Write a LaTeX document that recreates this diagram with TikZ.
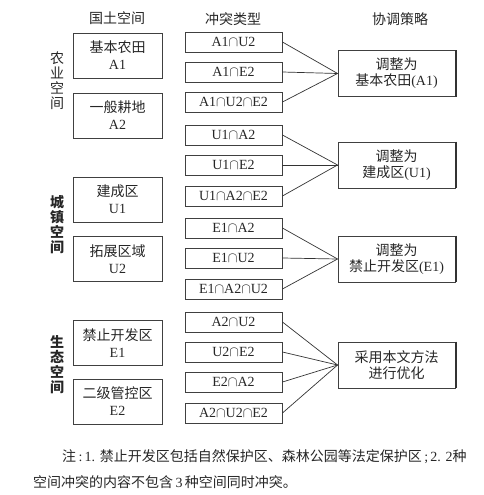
\documentclass[tikz,border=0pt]{standalone}
\usepackage{fontspec}
\setmainfont{Liberation Serif}
\newfontfamily\cjk{Noto Sans CJK SC}
\newcommand{\ic}{\ensuremath{\cap}}
\begin{document}
\begin{tikzpicture}[x=1pt,y=-1pt,
  every node/.style={inner sep=0pt, text=black!85},
  lbox/.style={draw=black!75, line width=0.9pt, minimum width=89pt, minimum height=45pt, align=center, font=\fontsize{14}{17}\selectfont},
  mbox/.style={draw=black!75, line width=0.9pt, minimum width=97pt, minimum height=20pt, font=\fontsize{14}{15}\selectfont},
  rbox/.style={draw=black!75, line width=0.9pt, minimum width=117pt, minimum height=46pt, align=center, font=\fontsize{14}{16}\selectfont},
  head/.style={font=\fontsize{14}{15}\selectfont\cjk},
  side/.style={align=center, font=\fontsize{14}{15}\selectfont\cjk},
  conn/.style={draw=black!80, line width=0.7pt}]
\useasboundingbox (0,0) rectangle (483,495);

% headers
\node[head] (h1) at (117,18) {国土空间};
\node[head] (h2) at (233,19) {冲突类型};
\node[head] (h3) at (400,19) {协调策略};

% side labels
\node[side] (s1) at (57,81) {农\\业\\空\\间};
\node[side, font=\fontsize{14}{15}\selectfont\cjk\bfseries] (s2) at (57,225) {城\\镇\\空\\间};
\node[side, font=\fontsize{14}{15}\selectfont\cjk\bfseries] (s3) at (57,365) {生\\态\\空\\间};

% left boxes
\node[lbox] (a1) at (117.5,55.5) {{\cjk 基本农田}\\A1};
\node[lbox] (a2) at (117.5,115.5) {{\cjk 一般耕地}\\A2};
\node[lbox] (u1) at (117.5,199.5) {{\cjk 建成区}\\U1};
\node[lbox] (u2) at (117.5,259) {{\cjk 拓展区域}\\U2};
\node[lbox] (e1) at (117.5,343) {{\cjk 禁止开发区}\\E1};
\node[lbox] (e2) at (117.5,401.5) {{\cjk 二级管控区}\\E2};

% middle boxes
\node[mbox] (m1) at (233.5,42) {A1\ic U2};
\node[mbox] (m2) at (233.5,72) {A1\ic E2};
\node[mbox] (m3) at (233.5,102) {A1\ic U2\ic E2};
\node[mbox] (m4) at (233.5,135) {U1\ic A2};
\node[mbox] (m5) at (233.5,165) {U1\ic E2};
\node[mbox] (m6) at (233.5,196) {U1\ic A2\ic E2};
\node[mbox] (m7) at (233.5,228) {E1\ic A2};
\node[mbox] (m8) at (233.5,258) {E1\ic U2};
\node[mbox] (m9) at (233.5,289) {E1\ic A2\ic U2};
\node[mbox] (m10) at (233.5,322) {A2\ic U2};
\node[mbox] (m11) at (233.5,352) {U2\ic E2};
\node[mbox] (m12) at (233.5,382) {E2\ic A2};
\node[mbox] (m13) at (233.5,413) {A2\ic U2\ic E2};

% right boxes
\node[rbox] (r1) at (396.5,73.5) {{\cjk 调整为}\\{\cjk 基本农田}(A1)};
\node[rbox] (r2) at (396.5,165) {{\cjk 调整为}\\{\cjk 建成区}(U1)};
\node[rbox] (r3) at (396.5,259) {{\cjk 调整为}\\{\cjk 禁止开发区}(E1)};
\node[rbox] (r4) at (396.5,365) {{\cjk 采用本文方法}\\{\cjk 进行优化}};
\foreach \r in {r1,r2,r3,r4}{
  \draw[draw=black!80, line width=1.6pt] ([xshift=0.35pt]\r.north east) -- ([xshift=0.35pt]\r.south east);
}

% connectors
\foreach \m in {m1,m2,m3}{\draw[conn] (\m.east) -- (r1.west);}
\foreach \m in {m4,m5,m6}{\draw[conn] (\m.east) -- (r2.west);}
\foreach \m in {m7,m8,m9}{\draw[conn] (\m.east) -- (r3.west);}
\foreach \m in {m10,m11,m12,m13}{\draw[conn] (\m.east) -- (r4.west);}

% note
\node[anchor=west, font=\fontsize{14}{16}\selectfont] (n1) at (62,457) {{\cjk 注}\,:\,1. {\cjk 禁止开发区包括自然保护区、森林公园等法定保护区}\,;\,2. 2{\cjk 种}};
\node[anchor=west, font=\fontsize{14}{16}\selectfont] (n2) at (33,482) {{\cjk 空间冲突的内容不包含}\,3\,{\cjk 种空间同时冲突。}};
\end{tikzpicture}
\end{document}
